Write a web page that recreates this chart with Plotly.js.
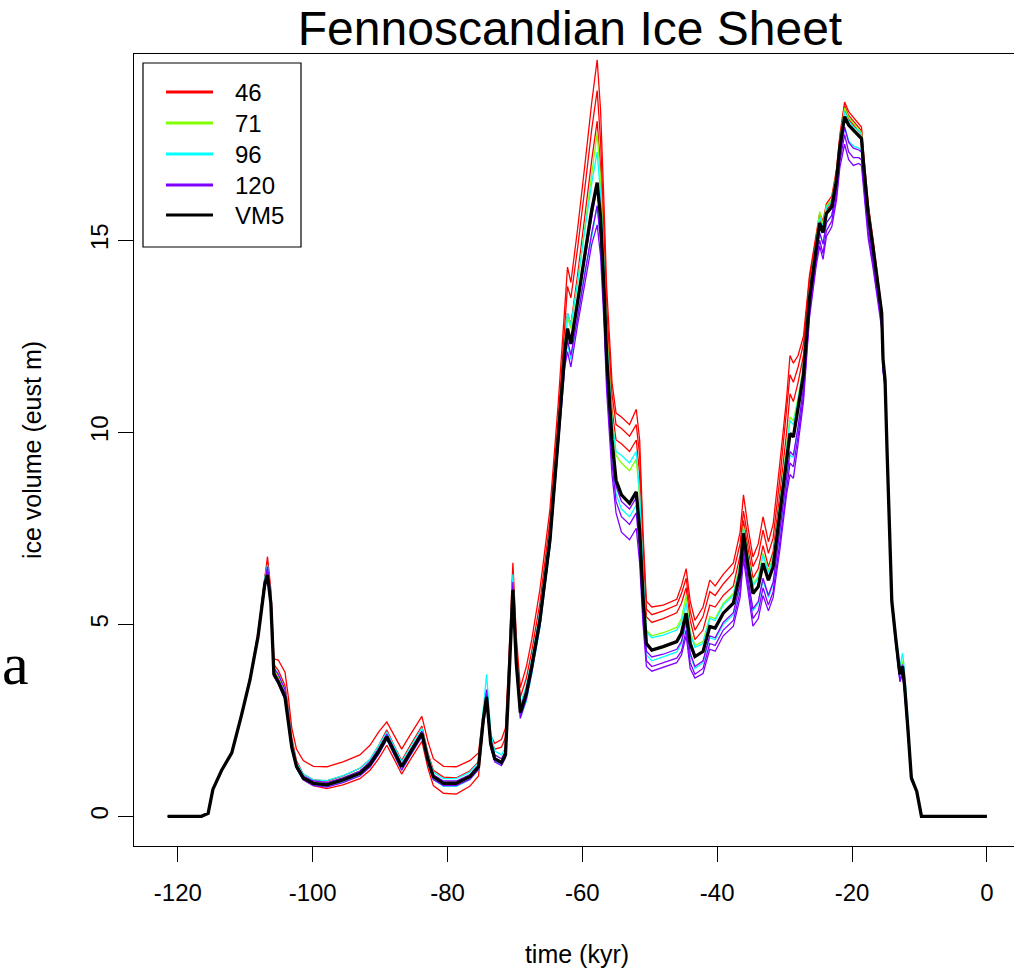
<!DOCTYPE html>
<html>
<head>
<meta charset="utf-8">
<script src="https://cdn.plot.ly/plotly-3.0.1.min.js"></script>
<style>
  html, body { margin: 0; padding: 0; background: #fff; overflow: hidden; }
  #chart { width: 1030px; height: 969px; }
</style>
</head>
<body>
<div id="chart"></div>
<script>
// Time axis (kyr before present)
const timeKyr = [
  -121.5, -116.5, -115.5, -114.8, -113.5, -112.0, -110.6, -109.3, -108.1, -107.1,
  -106.7, -106.2, -105.75, -105.1, -104.1, -103.6, -103.1, -102.4, -101.4, -99.9,
  -97.9, -95.5, -93.0, -91.5, -90.2, -89.0, -87.8, -86.8, -85.6, -83.8,
  -82.9, -82.1, -80.6, -78.7, -76.7, -75.4, -74.7, -74.2, -73.6, -73.0,
  -72.0, -71.4, -70.9, -70.3, -69.8, -69.2, -68.3, -67.5, -66.3, -64.8,
  -63.6, -62.6, -62.2, -61.7, -60.7, -59.6, -58.6, -57.8, -57.3, -56.8,
  -56.4, -55.6, -55.0, -54.2, -53.0, -52.0, -51.5, -51.0, -50.5, -49.7,
  -48.0, -46.0, -45.3, -44.6, -44.0, -43.3, -42.1, -41.1, -40.3, -39.1,
  -37.6, -36.6, -36.1, -35.4, -34.7, -33.9, -33.2, -32.4, -31.7, -30.7,
  -29.7, -29.2, -28.7, -28.0, -27.2, -26.3, -25.3, -24.8, -24.3, -23.8,
  -23.0, -22.3, -21.8, -21.1, -20.5, -19.8, -19.0, -18.6, -18.3, -17.6,
  -16.9, -16.1, -15.6, -15.4, -15.1, -14.8, -14.5, -14.1, -13.5, -12.9,
  -12.5, -12.2, -11.7, -11.2, -10.4, -9.7, 0
];

// Ice volume (eustatic metres), VM5 reference run
const vm5 = [
  0, 0, 0.08, 0.7, 1.2, 1.65, 2.6, 3.55, 4.68, 6.05,
  6.28, 5.55, 3.7, 3.5, 3.1, 2.5, 1.8, 1.3, 1.0, 0.86,
  0.82, 0.95, 1.12, 1.35, 1.7, 2.07, 1.64, 1.29, 1.64, 2.16,
  1.47, 1.03, 0.86, 0.86, 1.03, 1.29, 2.5, 3.11, 1.9, 1.5,
  1.4, 1.6, 3.5, 5.9, 4.0, 2.7, 3.2, 3.9, 5.1, 7.2,
  9.8, 12.1, 12.7, 12.3, 13.4, 14.7, 15.8, 16.5, 15.6, 13.8,
  12.0, 9.8, 8.75, 8.37, 8.15, 8.45, 7.46, 5.72, 4.5, 4.33,
  4.42, 4.55, 4.77, 5.29, 4.5, 4.16, 4.29, 4.94, 4.9, 5.29,
  5.55, 6.33, 7.37, 6.5, 5.8, 5.98, 6.59, 6.15, 6.5, 7.89,
  9.36, 9.97, 9.88, 10.6, 11.5, 13.5, 14.8, 15.45, 15.2, 15.7,
  15.87, 16.57, 17.44, 18.22, 18.0, 17.87, 17.75, 17.65, 17.0, 15.7,
  14.83, 13.8, 13.1, 11.9, 11.36, 9.5, 7.7, 5.6, 4.6, 3.7,
  3.9, 3.4, 2.25, 1.0, 0.65, 0, 0
];

// Upper-mantle viscosity 46: ensemble members
const run46a = [
  0, 0, 0.08, 0.7, 1.2, 1.65, 2.6, 3.6, 4.8, 6.3,
  6.76, 5.9, 4.1, 4.07, 3.75, 3.1, 2.3, 1.75, 1.45, 1.3,
  1.29, 1.42, 1.6, 1.85, 2.2, 2.46, 2.05, 1.75, 2.1, 2.6,
  1.95, 1.5, 1.3, 1.29, 1.45, 1.65, 2.7, 3.2, 2.1, 1.9,
  2.0, 2.3, 4.1, 6.6, 4.7, 3.35, 3.9, 4.6, 5.9, 8.0,
  10.7, 13.4, 14.3, 13.9, 15.3, 17.0, 18.6, 19.7, 18.4, 16.0,
  13.8, 11.3, 10.5, 10.4, 10.2, 10.6, 9.8, 7.4, 5.6, 5.45,
  5.5, 5.65, 6.0, 6.45, 5.6, 5.1, 5.45, 6.15, 6.0, 6.3,
  6.6, 7.4, 8.37, 7.5, 6.75, 7.1, 7.8, 7.15, 7.6, 9.2,
  10.9, 12.0, 11.8, 12.0, 12.5, 14.1, 15.2, 15.7, 15.5, 15.95,
  16.15, 16.85, 17.75, 18.6, 18.35, 18.2, 18.05, 17.95, 17.3, 15.95,
  15.05, 13.95, 13.2, 12.0, 11.4, 9.55, 7.75, 5.65, 4.65, 3.75,
  3.95, 3.45, 2.3, 1.05, 0.65, 0, 0
];
const run46b = [
  0, 0, 0.08, 0.7, 1.2, 1.65, 2.6, 3.57, 4.74, 6.2,
  6.6, 5.8, 3.95, 3.8, 3.4, 2.8, 2.05, 1.45, 1.1, 0.95,
  0.92, 1.05, 1.25, 1.48, 1.85, 2.25, 1.8, 1.45, 1.82, 2.35,
  1.65, 1.2, 1.02, 1.0, 1.18, 1.42, 2.6, 3.15, 2.0, 1.75,
  1.8, 2.05, 3.9, 6.3, 4.4, 3.1, 3.6, 4.3, 5.55, 7.7,
  10.3, 12.9, 13.8, 13.5, 14.8, 16.4, 17.9, 18.9, 17.6, 15.4,
  13.3, 11.0, 10.2, 10.1, 9.9, 10.2, 9.4, 7.1, 5.4, 5.25,
  5.35, 5.5, 5.8, 6.2, 5.35, 4.85, 5.2, 5.85, 5.75, 6.05,
  6.35, 7.1, 7.95, 7.2, 6.5, 6.8, 7.45, 6.85, 7.25, 8.8,
  10.5, 11.5, 11.3, 11.7, 12.3, 14.0, 15.1, 15.6, 15.4, 15.85,
  16.05, 16.75, 17.65, 18.5, 18.25, 18.1, 17.95, 17.85, 17.2, 15.85,
  14.95, 13.9, 13.15, 11.95, 11.38, 9.52, 7.72, 5.62, 4.62, 3.72,
  3.92, 3.42, 2.27, 1.02, 0.65, 0, 0
];
const run46c = [
  0, 0, 0.08, 0.7, 1.2, 1.65, 2.6, 3.55, 4.7, 6.1,
  6.4, 5.6, 3.8, 3.6, 3.2, 2.6, 1.85, 1.3, 0.95, 0.8,
  0.72, 0.82, 0.98, 1.2, 1.5, 1.85, 1.45, 1.1, 1.45, 1.95,
  1.25, 0.8, 0.6, 0.58, 0.78, 1.05, 2.35, 2.95, 1.8, 1.45,
  1.4, 1.6, 3.5, 6.0, 4.1, 2.8, 3.3, 4.0, 5.25, 7.35,
  9.95, 12.4, 13.1, 12.8, 14.1, 15.7, 17.1, 18.1, 16.9, 14.9,
  12.9, 10.6, 9.8, 9.7, 9.5, 9.8, 8.9, 6.7, 5.2, 5.05,
  5.15, 5.3, 5.55, 5.95, 5.1, 4.6, 4.85, 5.5, 5.45, 5.75,
  6.0, 6.8, 7.7, 6.95, 6.2, 6.45, 7.05, 6.5, 6.9, 8.4,
  10.0, 11.0, 10.8, 11.3, 12.0, 13.8, 15.0, 15.55, 15.3, 15.8,
  15.95, 16.65, 17.55, 18.4, 18.15, 18.0, 17.85, 17.75, 17.1, 15.8,
  14.9, 13.85, 13.1, 11.9, 11.36, 9.5, 7.7, 5.6, 4.6, 3.7,
  3.9, 3.4, 2.25, 1.0, 0.65, 0, 0
];

// Viscosity 71
const run71a = [
  0, 0, 0.08, 0.7, 1.2, 1.65, 2.6, 3.55, 4.7, 6.15,
  6.5, 5.7, 3.85, 3.65, 3.25, 2.6, 1.9, 1.35, 1.05, 0.9,
  0.87, 1.0, 1.18, 1.4, 1.75, 2.12, 1.7, 1.35, 1.7, 2.22,
  1.52, 1.08, 0.9, 0.9, 1.08, 1.33, 2.6, 3.3, 2.0, 1.6,
  1.5, 1.7, 3.6, 6.1, 4.15, 2.85, 3.35, 4.05, 5.25, 7.35,
  9.95, 12.35, 13.0, 12.7, 13.9, 15.4, 16.8, 17.8, 16.6, 14.6,
  12.7, 10.4, 9.4, 9.2, 9.0, 9.3, 8.3, 6.3, 4.85, 4.7,
  4.78, 4.92, 5.15, 5.75, 4.8, 4.45, 4.55, 5.2, 5.15, 5.55,
  5.8, 6.6, 7.55, 6.75, 6.05, 6.25, 6.85, 6.4, 6.75, 8.15,
  9.7, 10.4, 10.3, 10.9, 11.75, 13.7, 15.0, 15.75, 15.4, 15.9,
  16.05, 16.75, 17.6, 18.45, 18.2, 18.05, 17.9, 17.8, 17.15, 15.85,
  14.95, 13.9, 13.15, 11.95, 11.38, 9.52, 7.72, 5.65, 4.68, 3.8,
  4.05, 3.55, 2.35, 1.05, 0.65, 0, 0
];

// Viscosity 96
const run96a = [
  0, 0, 0.08, 0.7, 1.2, 1.65, 2.6, 3.55, 4.7, 6.2,
  6.55, 5.75, 3.9, 3.7, 3.3, 2.7, 1.95, 1.4, 1.1, 0.95,
  0.93, 1.06, 1.25, 1.48, 1.85, 2.2, 1.78, 1.42, 1.78, 2.3,
  1.6, 1.15, 0.98, 0.98, 1.15, 1.4, 2.8, 3.7, 2.2, 1.7,
  1.6, 1.8, 3.8, 6.3, 4.3, 2.9, 3.4, 4.1, 5.3, 7.4,
  10.0, 12.4, 13.1, 12.8, 13.9, 15.3, 16.5, 17.3, 16.2, 14.4,
  12.5, 10.3, 9.5, 9.4, 9.2, 9.5, 8.4, 6.4, 4.8, 4.65,
  4.72, 4.85, 5.05, 5.55, 4.75, 4.4, 4.5, 5.15, 5.1, 5.5,
  5.75, 6.55, 7.5, 6.7, 6.0, 6.2, 6.8, 6.35, 6.7, 8.1,
  9.6, 10.3, 10.2, 10.85, 11.7, 13.65, 14.95, 15.6, 15.35, 15.85,
  16.0, 16.7, 17.55, 18.35, 18.1, 17.95, 17.85, 17.75, 17.1, 15.8,
  14.9, 13.85, 13.15, 11.95, 11.38, 9.52, 7.75, 5.7, 4.75, 3.9,
  4.25, 3.75, 2.5, 1.1, 0.65, 0, 0
];
const run96b = [
  0, 0, 0.08, 0.7, 1.2, 1.65, 2.6, 3.55, 4.66, 6.0,
  6.3, 5.5, 3.7, 3.5, 3.1, 2.5, 1.8, 1.25, 0.95, 0.82,
  0.78, 0.9, 1.06, 1.28, 1.62, 2.0, 1.56, 1.2, 1.56, 2.08,
  1.4, 0.96, 0.78, 0.78, 0.95, 1.22, 2.4, 3.0, 1.85, 1.45,
  1.35, 1.55, 3.4, 5.8, 3.9, 2.55, 3.0, 3.7, 4.9, 7.0,
  9.6, 11.8, 12.3, 11.9, 13.0, 14.2, 15.1, 15.9, 15.0, 13.3,
  11.5, 9.4, 8.4, 8.0, 7.8, 8.1, 7.1, 5.4, 4.2, 4.05,
  4.15, 4.28, 4.5, 5.0, 4.2, 3.85, 4.0, 4.65, 4.6, 5.0,
  5.25, 6.0, 7.0, 6.1, 5.35, 5.55, 6.15, 5.7, 6.05, 7.4,
  8.8, 9.4, 9.35, 10.1, 11.1, 13.2, 14.6, 15.2, 14.9, 15.45,
  15.65, 16.35, 17.2, 17.95, 17.6, 17.45, 17.4, 17.35, 16.75, 15.45,
  14.6, 13.6, 12.95, 11.8, 11.3, 9.45, 7.65, 5.55, 4.5, 3.55,
  3.75, 3.25, 2.15, 0.95, 0.65, 0, 0
];

// Viscosity 120
const run120a = [
  0, 0, 0.08, 0.7, 1.2, 1.65, 2.6, 3.55, 4.7, 6.1,
  6.5, 5.7, 3.85, 3.7, 3.3, 2.65, 1.9, 1.35, 1.05, 0.92,
  0.88, 1.0, 1.18, 1.42, 1.76, 2.14, 1.7, 1.35, 1.7, 2.22,
  1.53, 1.08, 0.92, 0.92, 1.08, 1.34, 2.6, 3.3, 2.0, 1.6,
  1.5, 1.7, 3.6, 6.1, 4.1, 2.8, 3.3, 4.0, 5.2, 7.3,
  9.9, 12.1, 12.7, 12.3, 13.4, 14.6, 15.6, 16.4, 15.4, 13.6,
  11.8, 9.6, 8.6, 8.2, 8.0, 8.3, 7.3, 5.5, 4.3, 4.15,
  4.22, 4.35, 4.55, 5.1, 4.25, 3.9, 4.05, 4.7, 4.65, 5.05,
  5.3, 6.05, 7.05, 6.15, 5.4, 5.6, 6.2, 5.75, 6.1, 7.45,
  8.9, 9.5, 9.4, 10.15, 11.15, 13.25, 14.6, 15.2, 14.9, 15.45,
  15.65, 16.35, 17.2, 17.95, 17.55, 17.4, 17.35, 17.3, 16.7, 15.4,
  14.55, 13.55, 12.9, 11.75, 11.28, 9.45, 7.68, 5.62, 4.62, 3.7,
  3.95, 3.45, 2.3, 1.0, 0.65, 0, 0
];
const run120b = [
  0, 0, 0.08, 0.7, 1.2, 1.65, 2.6, 3.55, 4.68, 6.0,
  6.35, 5.6, 3.75, 3.55, 3.2, 2.55, 1.8, 1.3, 1.0, 0.86,
  0.82, 0.95, 1.12, 1.35, 1.7, 2.07, 1.64, 1.29, 1.64, 2.16,
  1.47, 1.03, 0.86, 0.86, 1.03, 1.29, 2.5, 3.15, 1.9, 1.5,
  1.4, 1.6, 3.5, 5.9, 4.0, 2.65, 3.15, 3.85, 5.05, 7.15,
  9.75, 11.9, 12.4, 12.0, 13.0, 14.2, 15.2, 15.9, 15.0, 13.2,
  11.4, 9.2, 8.2, 7.8, 7.6, 7.9, 6.9, 5.2, 4.05, 3.9,
  4.0, 4.12, 4.3, 4.85, 4.0, 3.7, 3.85, 4.5, 4.45, 4.85,
  5.1, 5.85, 6.85, 5.95, 5.15, 5.35, 5.95, 5.5, 5.85, 7.15,
  8.6, 9.2, 9.1, 9.9, 10.95, 13.1, 14.45, 15.0, 14.65, 15.25,
  15.5, 16.2, 17.05, 17.75, 17.3, 17.15, 17.15, 17.1, 16.5, 15.2,
  14.4, 13.45, 12.8, 11.65, 11.2, 9.4, 7.62, 5.55, 4.5, 3.55,
  3.75, 3.25, 2.15, 0.95, 0.65, 0, 0
];
const run120c = [
  0, 0, 0.08, 0.7, 1.2, 1.65, 2.6, 3.55, 4.66, 5.95,
  6.2, 5.5, 3.65, 3.45, 3.05, 2.45, 1.75, 1.25, 0.95, 0.8,
  0.76, 0.88, 1.05, 1.28, 1.62, 2.0, 1.55, 1.2, 1.56, 2.08,
  1.4, 0.96, 0.8, 0.8, 0.96, 1.22, 2.4, 3.0, 1.8, 1.42,
  1.32, 1.52, 3.4, 5.8, 3.9, 2.55, 3.05, 3.75, 4.95, 7.05,
  9.6, 11.7, 12.1, 11.7, 12.8, 13.9, 14.9, 15.4, 14.6, 12.9,
  11.1, 8.9, 7.9, 7.4, 7.2, 7.5, 6.6, 5.0, 3.9, 3.78,
  3.88, 4.0, 4.2, 4.7, 3.85, 3.6, 3.72, 4.35, 4.3, 4.7,
  4.95, 5.7, 6.7, 5.75, 4.95, 5.15, 5.75, 5.35, 5.7, 6.95,
  8.4, 8.9, 8.8, 9.7, 10.8, 13.0, 14.35, 14.85, 14.5, 15.1,
  15.35, 16.05, 16.9, 17.5, 17.1, 16.95, 17.0, 16.95, 16.35, 15.05,
  14.3, 13.35, 12.7, 11.6, 11.15, 9.35, 7.6, 5.5, 4.45, 3.5,
  3.7, 3.2, 2.1, 0.95, 0.65, 0, 0
];

// Legend labels and colours (rainbow palette + black reference)
const legendLabels = ['46', '71', '96', '120', 'VM5'];
const legendColors = ['#FF0000', '#80FF00', '#00FFFF', '#8000FF', '#000000'];

// Axis ticks
const xTickVals = [-120, -100, -80, -60, -40, -20, 0];
const xTickText = ['-120', '-100', '-80', '-60', '-40', '-20', '0'];
const yTickVals = [0, 5, 10, 15];
const yTickText = ['0', '5', '10', '15'];

// Ensemble runs grouped by viscosity, drawn in legend order
const groups = [
  { runs: [run46a, run46b, run46c], color: legendColors[0] },
  { runs: [run71a], color: legendColors[1] },
  { runs: [run96a, run96b], color: legendColors[2] },
  { runs: [run120a, run120b, run120c], color: legendColors[3] }
];

const traces = [];
groups.forEach(g => {
  g.runs.forEach(r => {
    traces.push({
      x: timeKyr, y: r, type: 'scatter', mode: 'lines',
      line: { color: g.color, width: 1.3 },
      showlegend: false, hoverinfo: 'skip'
    });
  });
});
traces.push({
  x: timeKyr, y: vm5, type: 'scatter', mode: 'lines', name: 'VM5',
  line: { color: '#000000', width: 3.3 }, showlegend: false
});

// Frame geometry (pixels)
const M = { l: 134, r: 10, t: 54, b: 123 };
const W = 1030, H = 969;
const PW = W - M.l - M.r, PH = H - M.t - M.b;
const px = x => (x - M.l) / PW;
const py = y => (M.t + PH - y) / PH;

const FONT = 'Liberation Sans, Arial, Helvetica, sans-serif';

// Boxed legend drawn in the upper-left corner
const shapes = [{
  type: 'rect', xref: 'paper', yref: 'paper',
  x0: px(143), x1: px(301), y0: py(247), y1: py(63),
  line: { color: '#000', width: 1.2 }, fillcolor: '#fff'
}];
const annotations = [];
const rowY = [92, 123, 154, 185, 215];
legendLabels.forEach((lab, i) => {
  shapes.push({
    type: 'line', xref: 'paper', yref: 'paper',
    x0: px(166), x1: px(213), y0: py(rowY[i]), y1: py(rowY[i]),
    line: { color: legendColors[i], width: 2.8 }
  });
  annotations.push({
    xref: 'paper', yref: 'paper', x: px(233), y: py(rowY[i]),
    xanchor: 'left', yanchor: 'middle', showarrow: false,
    text: lab, font: { family: FONT, size: 24, color: '#000' }
  });
});

// Panel letter at the left margin
annotations.push({
  xref: 'paper', yref: 'paper', x: px(0), y: py(664),
  xanchor: 'left', yanchor: 'middle', showarrow: false,
  text: 'a', font: { family: 'Liberation Serif, Times New Roman, serif', size: 60, color: '#000' }
});

const layout = {
  width: W, height: H,
  margin: M,
  paper_bgcolor: '#fff', plot_bgcolor: '#fff',
  showlegend: false,
  font: { family: FONT, color: '#000' },
  title: {
    text: 'Fennoscandian Ice Sheet',
    font: { family: FONT, size: 48, color: '#000' },
    xref: 'container', x: 570 / W, xanchor: 'center',
    yref: 'container', y: 1 - 28 / H, yanchor: 'middle'
  },
  xaxis: {
    range: [-126.5, -126.5 + PW / 6.742],
    tickvals: xTickVals, ticktext: xTickText,
    ticks: 'outside', ticklen: 15, tickwidth: 1, tickcolor: '#000',
    ticklabelstandoff: 10,
    showline: true, linecolor: '#000', linewidth: 1, mirror: true,
    showgrid: false, zeroline: false,
    tickfont: { family: FONT, size: 24, color: '#000' },
    title: { text: 'time (kyr)', font: { family: FONT, size: 25, color: '#000' }, standoff: 40 }
  },
  yaxis: {
    range: [-0.773, 19.85],
    tickvals: yTickVals, ticktext: yTickText, tickangle: -90,
    ticks: 'outside', ticklen: 15, tickwidth: 1, tickcolor: '#000',
    showline: true, linecolor: '#000', linewidth: 1, mirror: true,
    showgrid: false, zeroline: false,
    tickfont: { family: FONT, size: 24, color: '#000' },
    title: { text: 'ice volume (eust m)', font: { family: FONT, size: 25, color: '#000' }, standoff: 37 }
  },
  shapes: shapes,
  annotations: annotations
};

Plotly.newPlot('chart', traces, layout, { staticPlot: true, displayModeBar: false });
</script>
</body>
</html>
